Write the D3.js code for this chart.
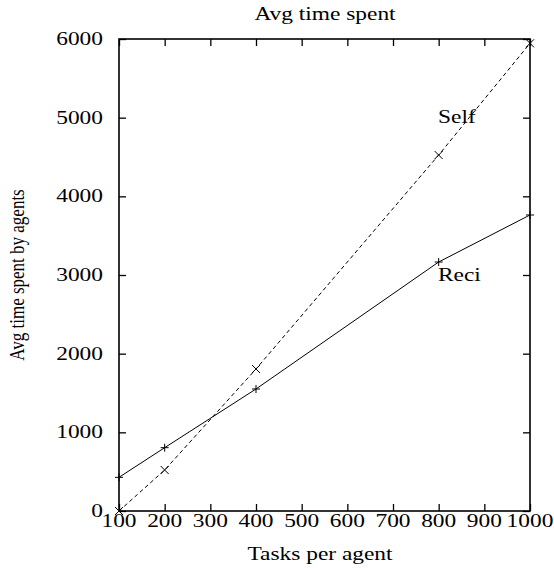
<!DOCTYPE html>
<html><head><meta charset="utf-8">
<script src="https://cdn.jsdelivr.net/npm/d3@7"></script>
<style>body{margin:0;background:#fff}svg{display:block}text{font-family:"Liberation Serif","Times New Roman",serif;fill:#000}</style>
</head><body>
<script>
const tasks = [100, 200, 400, 800, 1000];
const reciValues = [428, 805, 1551, 3165, 3763];
const selfValues = [0, 521, 1805, 4525, 5945];
const xTicks = [100, 200, 300, 400, 500, 600, 700, 800, 900, 1000];
const yTicks = [0, 1000, 2000, 3000, 4000, 5000, 6000];
const title = "Avg time spent";
const xTitle = "Tasks per agent";
const yTitle = "Avg time spent by agents";

(function () {
const W = 554, H = 568;
const L = 119, R = 530, T = 39, B = 511;
const SX = 1.3;
const svg = d3.select("body").append("svg").attr("width", W).attr("height", H);
const x = d3.scaleLinear().domain([100, 1000]).range([L, R]);
const y = d3.scaleLinear().domain([0, 6000]).range([B, T]);

function stext(tx, ty, str, anchor, size) {
  svg.append("text").attr("transform", `translate(${tx},${ty}) scale(${SX},1)`)
    .attr("text-anchor", anchor).attr("font-size", size).text(str);
}

// axes with inward ticks
const tl = 7;
const gBottom = svg.append("g").attr("transform", `translate(0,${B})`)
  .call(d3.axisBottom(x).tickValues(xTicks).tickSize(-tl).tickFormat(""));
const gTop = svg.append("g").attr("transform", `translate(0,${T})`)
  .call(d3.axisTop(x).tickValues(xTicks).tickSize(-tl).tickFormat(""));
const gLeft = svg.append("g").attr("transform", `translate(${L},0)`)
  .call(d3.axisLeft(y).tickValues(yTicks).tickSize(-tl).tickFormat(""));
const gRight = svg.append("g").attr("transform", `translate(${R},0)`)
  .call(d3.axisRight(y).tickValues(yTicks).tickSize(-tl).tickFormat(""));
[gBottom, gTop, gLeft, gRight].forEach(g => {
  g.select(".domain").remove();
  g.selectAll("line").attr("stroke", "#000").attr("stroke-width", 1.3);
});
svg.append("rect").attr("x", L).attr("y", T).attr("width", R - L).attr("height", B - T)
  .attr("fill", "none").attr("stroke", "#000").attr("stroke-width", 1.6);

// tick labels
xTicks.forEach(v => stext(x(v), 527, String(v), "middle", 18));
yTicks.forEach(v => stext(103, y(v) + 6, String(v), "end", 18));

// titles
stext(325, 20, title, "middle", 18);
stext(320, 560, xTitle, "middle", 18);
svg.append("text").attr("transform", `translate(24,275) rotate(-90) scale(1,1.25)`)
  .attr("text-anchor", "middle").attr("font-size", 17).text(yTitle);

// lines
const reci = tasks.map((t, i) => [t, reciValues[i]]);
const self = tasks.map((t, i) => [t, selfValues[i]]);
const line = d3.line().x(d => x(d[0])).y(d => y(d[1]));
svg.append("path").datum(reci).attr("d", line).attr("fill", "none").attr("stroke", "#000").attr("stroke-width", 1);
svg.append("path").datum(self).attr("d", line).attr("fill", "none").attr("stroke", "#000").attr("stroke-width", 1).attr("stroke-dasharray", "4,3");

const m = 4;
reci.forEach(d => {
  const cx = x(d[0]), cy = y(d[1]);
  svg.append("path").attr("d", `M${cx - m},${cy}H${cx + m}M${cx},${cy - m}V${cy + m}`).attr("stroke", "#000").attr("stroke-width", 1);
});
self.forEach(d => {
  const cx = x(d[0]), cy = y(d[1]);
  svg.append("path").attr("d", `M${cx - m},${cy - m}L${cx + m},${cy + m}M${cx - m},${cy + m}L${cx + m},${cy - m}`).attr("stroke", "#000").attr("stroke-width", 1);
});

// series labels
stext(438, 123, "Self", "start", 18);
stext(438, 281, "Reci", "start", 18);
})();
</script>
</body></html>
